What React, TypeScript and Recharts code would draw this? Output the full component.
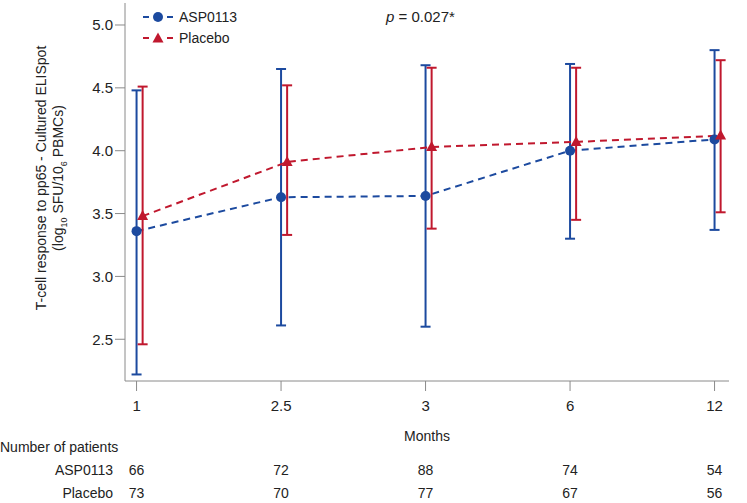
import React from "react";
import { ComposedChart, Line, XAxis, YAxis, ErrorBar } from "recharts";

// Valores (media e intervalo por visita)
const months = ["1", "2.5", "3", "6", "12"];
const aspMean = [3.36, 3.63, 3.64, 4.0, 4.09];
const aspLow = [2.22, 2.61, 2.6, 3.3, 3.37];
const aspHigh = [4.48, 4.65, 4.68, 4.69, 4.8];
const placeboMean = [3.48, 3.91, 4.03, 4.07, 4.12];
const placeboLow = [2.46, 3.33, 3.38, 3.45, 3.51];
const placeboHigh = [4.51, 4.52, 4.66, 4.66, 4.72];
const aspPatients = [66, 72, 88, 74, 54];
const placeboPatients = [73, 70, 77, 67, 56];
const yTicks = [2.5, 3.0, 3.5, 4.0, 4.5, 5.0];

const BLUE = "#1c4a9f";
const RED = "#c0182e";
const AXIS = "#8a8a8a";
const TEXT = "#222";
const FONT = "'Liberation Sans', Arial, sans-serif";

const build = (mean: number[], low: number[], high: number[], shift: number) =>
  mean.map((m, i) => ({ x: i + shift, y: m, err: [m - low[i], high[i] - m] }));

const aspData = build(aspMean, aspLow, aspHigh, 0);
const placeboData = build(placeboMean, placeboLow, placeboHigh, 0.042);

const MonthTick = ({ x, y, payload }: any) => {
  const i = payload.value;
  return (
    <g fontFamily={FONT} fill={TEXT} textAnchor="middle">
      <text x={x} y={y + 18} fontSize={15}>{months[i]}</text>
      <text x={x} y={y + 82} fontSize={14}>{aspPatients[i]}</text>
      <text x={x} y={y + 105} fontSize={14}>{placeboPatients[i]}</text>
    </g>
  );
};

const circleDot = (p: any) => (
  <circle key={`c-${p.index}`} cx={p.cx} cy={p.cy} r={5} fill={BLUE} />
);

const triangleDot = (p: any) => (
  <polygon
    key={`t-${p.index}`}
    points={`${p.cx},${p.cy - 6} ${p.cx - 5.5},${p.cy + 4} ${p.cx + 5.5},${p.cy + 4}`}
    fill={RED}
  />
);

const abs = (left: number, top: number): React.CSSProperties => ({
  position: "absolute",
  left,
  top,
  fontFamily: FONT,
  color: TEXT,
  whiteSpace: "nowrap",
  lineHeight: 1,
});

const LegendRow = ({ color, label, top, shape }: any) => (
  <div style={{ ...abs(142, top), display: "flex", alignItems: "center", fontSize: 14 }}>
    <svg width={32} height={12} style={{ marginRight: 5 }}>
      <line x1={1} y1={6} x2={7} y2={6} stroke={color} strokeWidth={2} />
      <line x1={25} y1={6} x2={31} y2={6} stroke={color} strokeWidth={2} />
      {shape === "circle" ? (
        <circle cx={16} cy={6} r={5} fill={color} />
      ) : (
        <polygon points="16,0.5 10.5,10.5 21.5,10.5" fill={color} />
      )}
    </svg>
    {label}
  </div>
);

export default function App() {
  return (
    <div style={{ position: "absolute", left: 0, top: 0, width: 747, height: 503, background: "#fff" }}>
      <ComposedChart width={747} height={503} margin={{ top: 3, right: 18, left: 65, bottom: 92 }}>
        <XAxis
          dataKey="x"
          type="number"
          domain={[-0.08, 4.1]}
          ticks={[0, 1, 2, 3, 4]}
          interval={0}
          allowDataOverflow
          height={30}
          tickSize={10}
          stroke={AXIS}
          tick={<MonthTick />}
        />
        <YAxis
          type="number"
          domain={[2.168, 5.175]}
          ticks={yTicks}
          allowDataOverflow
          width={60}
          tickSize={10}
          stroke={AXIS}
          tick={{ fill: TEXT, fontSize: 15, fontFamily: FONT }}
          tickFormatter={(v: number) => v.toFixed(1)}
        />
        <Line
          data={aspData}
          dataKey="y"
          type="linear"
          stroke={BLUE}
          strokeWidth={2}
          strokeDasharray="7 5"
          dot={circleDot}
          activeDot={false}
          isAnimationActive={false}
        >
          <ErrorBar dataKey="err" direction="y" width={5} strokeWidth={2} stroke={BLUE} />
        </Line>
        <Line
          data={placeboData}
          dataKey="y"
          type="linear"
          stroke={RED}
          strokeWidth={2}
          strokeDasharray="7 5"
          dot={triangleDot}
          activeDot={false}
          isAnimationActive={false}
        >
          <ErrorBar dataKey="err" direction="y" width={5} strokeWidth={2} stroke={RED} />
        </Line>
      </ComposedChart>

      <LegendRow color={BLUE} label="ASP0113" top={10} shape="circle" />
      <LegendRow color={RED} label="Placebo" top={31} shape="triangle" />

      <div style={{ ...abs(386, 9), fontSize: 15 }}>
        <i>p</i> = 0.027*
      </div>

      <div
        style={{
          ...abs(0, 0),
          left: 53,
          top: 178,
          fontSize: 14,
          lineHeight: "17px",
          textAlign: "center",
          transform: "translate(-50%, -50%) rotate(-90deg)",
        }}
      >
        <div>T-cell response to pp65 - Cultured ELISpot</div>
        <div>
          (log<sub style={{ fontSize: 9 }}>10</sub> SFU/10<sub style={{ fontSize: 9 }}>6</sub> PBMCs)
        </div>
      </div>

      <div style={{ ...abs(0, 429), left: 427, transform: "translateX(-50%)", fontSize: 14 }}>Months</div>
      <div style={{ ...abs(0, 440), fontSize: 14 }}>Number of patients</div>
      <div style={{ ...abs(0, 463), left: "auto", right: 747 - 113, fontSize: 14 }}>ASP0113</div>
      <div style={{ ...abs(0, 486), left: "auto", right: 747 - 113, fontSize: 14 }}>Placebo</div>
    </div>
  );
}
